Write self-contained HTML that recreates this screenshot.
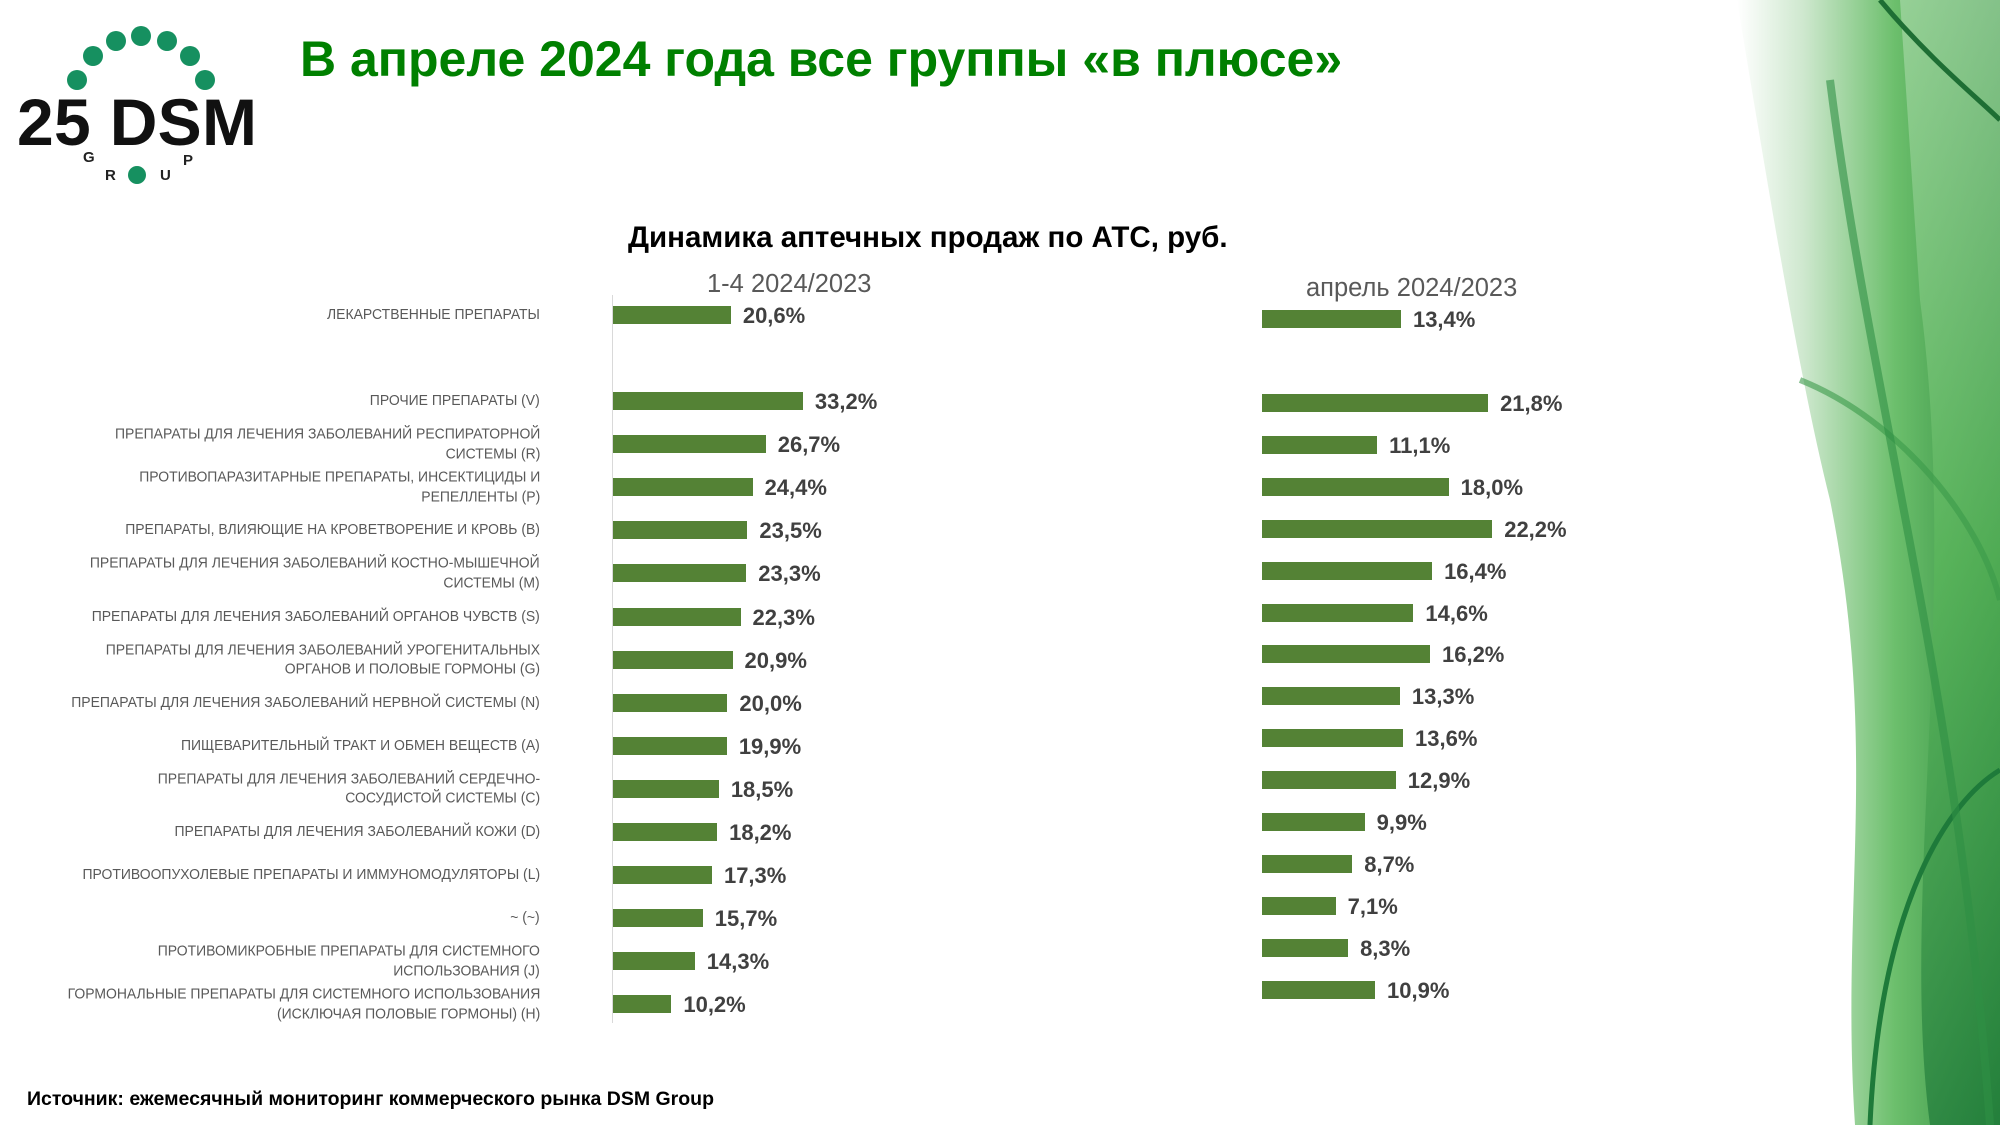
<!DOCTYPE html>
<html><head><meta charset="utf-8"><style>
body{margin:0;width:2000px;height:1125px;position:relative;background:#fff;overflow:hidden;font-family:"Liberation Sans",sans-serif}
.a{position:absolute;white-space:nowrap}
.lab{position:absolute;right:1460px;text-align:right;font-family:"Liberation Sans Narrow","Liberation Sans",sans-serif;font-size:15px;line-height:19.6px;color:#595959;transform:translateY(-50%) scaleX(0.93);transform-origin:right center}
.bar{position:absolute;height:18px;background:#548235}
.val{position:absolute;font-family:"Liberation Sans Narrow","Liberation Sans",sans-serif;font-weight:bold;font-size:22px;color:#404040;line-height:22px}
</style></head><body>
<svg class="a" style="left:0;top:0" width="2000" height="1125">
<defs>
<linearGradient id="g1" x1="0" y1="0" x2="1" y2="0"><stop offset="0" stop-color="#fff"/><stop offset="0.25" stop-color="#cfe8cf"/><stop offset="0.6" stop-color="#6cbf6c"/><stop offset="1" stop-color="#2e8b3e"/></linearGradient>
<linearGradient id="g2" x1="0" y1="0" x2="0" y2="1"><stop offset="0" stop-color="#a9d9a9"/><stop offset="0.5" stop-color="#5cb85c"/><stop offset="1" stop-color="#1f7a3a"/></linearGradient>
</defs>
<path d="M1737,0 L2000,0 L2000,1125 L1855,1125 C1840,900 1880,750 1830,500 C1800,380 1770,200 1737,0Z" fill="url(#g1)"/>
<path d="M1900,0 L2000,0 L2000,1125 L1930,1125 C1900,900 1960,600 1920,300Z" fill="url(#g2)" opacity="0.7"/>
<path d="M1800,380 C1900,420 1980,520 2000,600" stroke="#3a9a4a" stroke-width="6" fill="none" opacity="0.6"/>
<path d="M1870,1125 C1880,900 1950,800 2000,770" stroke="#1e7a3a" stroke-width="5" fill="none"/>
<path d="M1880,0 C1930,60 1980,100 2000,120" stroke="#1e6e34" stroke-width="5" fill="none"/>
<path d="M1830,80 C1870,400 1960,700 1990,1125" stroke="#2f8f45" stroke-width="8" fill="none" opacity="0.6"/>
</svg>
<svg class="a" style="left:10px;top:10px" width="260" height="185">
<g fill="#169060">
<circle cx="67" cy="70" r="10"/><circle cx="83" cy="46" r="10"/><circle cx="106" cy="31" r="10"/>
<circle cx="131" cy="26" r="10"/><circle cx="157" cy="31" r="10"/><circle cx="180" cy="46" r="10"/><circle cx="195" cy="70" r="10"/>
<circle cx="127" cy="165" r="9"/>
</g>
<text x="7" y="135" font-family="Liberation Sans" font-weight="bold" font-size="66" fill="#111" textLength="240">25 DSM</text>
<text x="73" y="152" font-size="15" font-weight="bold" fill="#222">G</text>
<text x="95" y="170" font-size="15" font-weight="bold" fill="#222">R</text>
<text x="150" y="170" font-size="15" font-weight="bold" fill="#222">U</text>
<text x="173" y="155" font-size="15" font-weight="bold" fill="#222">P</text>
</svg>
<div class="a" style="left:300px;top:30px;font-size:50px;font-weight:bold;color:#008000">В апреле 2024 года все группы «в плюсе»</div>
<div class="a" style="left:628px;top:221px;font-size:29.5px;font-weight:bold;color:#000">Динамика аптечных продаж по АТС, руб.</div>
<div class="a" style="left:707px;top:270px;font-size:25.5px;color:#595959">1-4 2024/2023</div>
<div class="a" style="left:1306px;top:274px;font-size:25.5px;color:#595959">апрель 2024/2023</div>
<div class="a" style="left:612px;top:295px;width:1px;height:728px;background:#d9d9d9"></div>
<div id="c"></div>
<div class="a" style="left:27px;top:1088px;font-size:19.5px;font-weight:bold;color:#000">Источник: ежемесячный мониторинг коммерческого рынка DSM Group</div>
<script>
var d=[["ЛЕКАРСТВЕННЫЕ ПРЕПАРАТЫ",20.6,13.4],
["ПРОЧИЕ ПРЕПАРАТЫ (V)",33.2,21.8],
["ПРЕПАРАТЫ ДЛЯ ЛЕЧЕНИЯ ЗАБОЛЕВАНИЙ РЕСПИРАТОРНОЙ<br>СИСТЕМЫ (R)",26.7,11.1],
["ПРОТИВОПАРАЗИТАРНЫЕ ПРЕПАРАТЫ, ИНСЕКТИЦИДЫ И<br>РЕПЕЛЛЕНТЫ (P)",24.4,18.0],
["ПРЕПАРАТЫ, ВЛИЯЮЩИЕ НА КРОВЕТВОРЕНИЕ И КРОВЬ (B)",23.5,22.2],
["ПРЕПАРАТЫ ДЛЯ ЛЕЧЕНИЯ ЗАБОЛЕВАНИЙ КОСТНО-МЫШЕЧНОЙ<br>СИСТЕМЫ (M)",23.3,16.4],
["ПРЕПАРАТЫ ДЛЯ ЛЕЧЕНИЯ ЗАБОЛЕВАНИЙ ОРГАНОВ ЧУВСТВ (S)",22.3,14.6],
["ПРЕПАРАТЫ ДЛЯ ЛЕЧЕНИЯ ЗАБОЛЕВАНИЙ УРОГЕНИТАЛЬНЫХ<br>ОРГАНОВ И ПОЛОВЫЕ ГОРМОНЫ (G)",20.9,16.2],
["ПРЕПАРАТЫ ДЛЯ ЛЕЧЕНИЯ ЗАБОЛЕВАНИЙ НЕРВНОЙ СИСТЕМЫ (N)",20.0,13.3],
["ПИЩЕВАРИТЕЛЬНЫЙ ТРАКТ И ОБМЕН ВЕЩЕСТВ (A)",19.9,13.6],
["ПРЕПАРАТЫ ДЛЯ ЛЕЧЕНИЯ ЗАБОЛЕВАНИЙ СЕРДЕЧНО-<br>СОСУДИСТОЙ СИСТЕМЫ (C)",18.5,12.9],
["ПРЕПАРАТЫ ДЛЯ ЛЕЧЕНИЯ ЗАБОЛЕВАНИЙ КОЖИ (D)",18.2,9.9],
["ПРОТИВООПУХОЛЕВЫЕ ПРЕПАРАТЫ И ИММУНОМОДУЛЯТОРЫ (L)",17.3,8.7],
["~ (~)",15.7,7.1],
["ПРОТИВОМИКРОБНЫЕ ПРЕПАРАТЫ ДЛЯ СИСТЕМНОГО<br>ИСПОЛЬЗОВАНИЯ (J)",14.3,8.3],
["ГОРМОНАЛЬНЫЕ ПРЕПАРАТЫ ДЛЯ СИСТЕМНОГО ИСПОЛЬЗОВАНИЯ<br>(ИСКЛЮЧАЯ ПОЛОВЫЕ ГОРМОНЫ) (H)",10.2,10.9]];
var h="";
function f(v){return v.toFixed(1).replace(".",",")+"%";}
d.forEach(function(r,i){
 var yl=i==0?315:401+43.1*(i-1), yr=i==0?319:403+41.9*(i-1);
 h+='<div class="lab" style="top:'+yl+'px">'+r[0]+'</div>';
 var wl=r[1]*5.72, wr=r[2]*10.37;
 h+='<div class="bar" style="left:613px;top:'+(yl-9)+'px;width:'+wl+'px"></div>';
 h+='<div class="val" style="left:'+(613+wl+12)+'px;top:'+(yl-10)+'px">'+f(r[1])+'</div>';
 h+='<div class="bar" style="left:1262px;top:'+(yr-9)+'px;width:'+wr+'px"></div>';
 h+='<div class="val" style="left:'+(1262+wr+12)+'px;top:'+(yr-10)+'px">'+f(r[2])+'</div>';
});
document.getElementById("c").innerHTML=h;
</script>
</body></html>
